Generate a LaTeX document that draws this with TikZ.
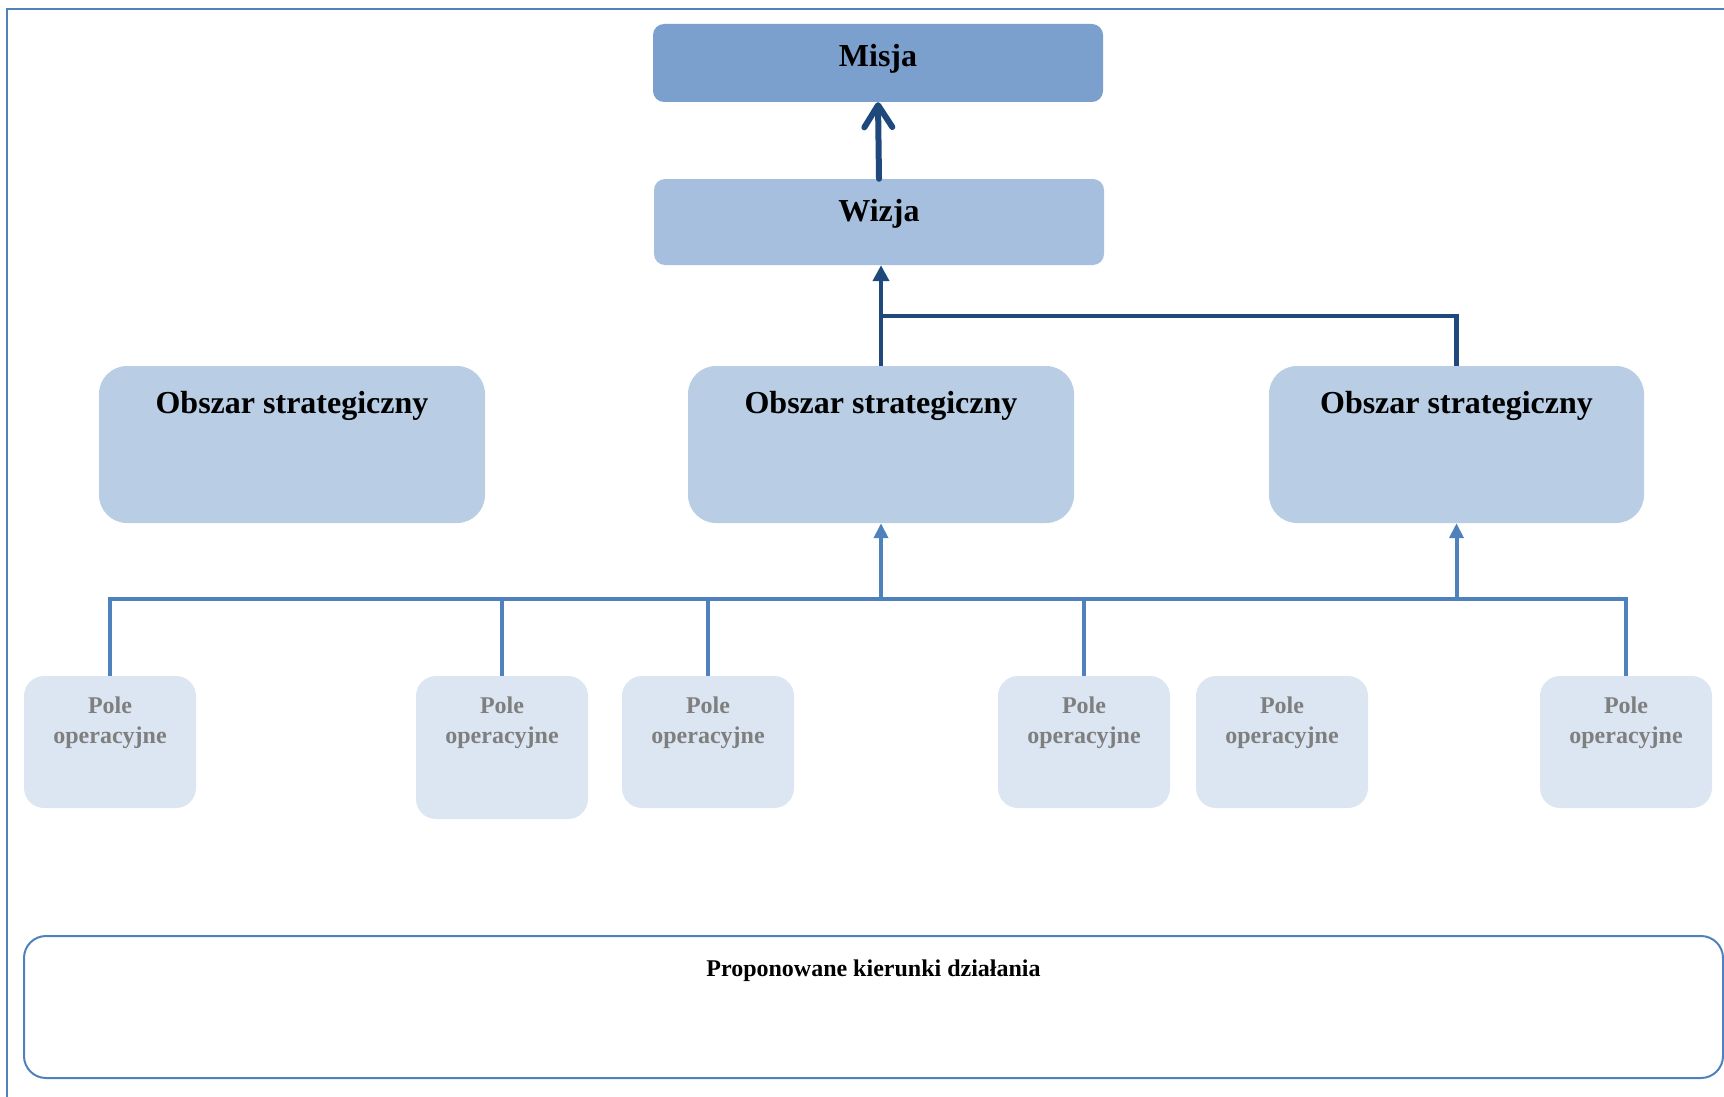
\documentclass[tikz,border=0pt]{standalone}
\usepackage{fontspec}
\setmainfont{Liberation Serif}
\usetikzlibrary{positioning,arrows.meta}
\definecolor{misjafill}{HTML}{7BA0CD}
\definecolor{wizjafill}{HTML}{A7BFDE}
\definecolor{obszarfill}{HTML}{B9CDE5}
\definecolor{polefill}{HTML}{DCE6F2}
\definecolor{poletext}{HTML}{7F7F7F}
\definecolor{darkblue}{HTML}{1F497D}
\definecolor{midblue}{HTML}{4F81BD}

\begin{document}
\begin{tikzpicture}[
    x=1pt, y=-1pt,
    big/.style={font=\fontsize{32}{38}\selectfont\bfseries},
    small/.style={font=\fontsize{24}{30}\selectfont\bfseries},
    toptext/.style={label={[big,anchor=north,yshift=-20pt,inner sep=0pt]north:#1}},
    topbox/.style={rounded corners=11pt, minimum width=450pt, inner sep=0pt},
    obszar/.style={rounded corners=28pt, fill=obszarfill, minimum height=157pt, inner sep=0pt,
        label={[big,anchor=north,yshift=-25pt,inner sep=0pt]north:Obszar strategiczny}},
    pole/.style={rounded corners=20pt, fill=polefill, minimum width=172pt, inner sep=0pt,
        label={[small,text=poletext,align=center,anchor=north,yshift=-21pt,inner sep=0pt]north:Pole\\operacyjne}},
    darkline/.style={draw=darkblue, line width=4.5pt},
    blueline/.style={draw=midblue, line width=4pt}
]
\clip (0,0) rectangle (1724,1097);
\useasboundingbox (0,0) rectangle (1724,1097);
% frame
\draw[midblue, line width=2pt] (7,9.5) rectangle (1780,1140);

% top
\node[topbox, fill=misjafill, minimum height=78pt, toptext=Misja] (misja) at (878,63) {};
\node[topbox, fill=wizjafill, minimum height=86pt, toptext=Wizja] (wizja) at (879,222) {};

% obszary
\node[obszar, minimum width=386pt] (o1) at (292,444.5) {};
\node[obszar, minimum width=386pt] (o2) at (881,444.5) {};
\node[obszar, minimum width=375pt] (o3) at (1456.5,444.5) {};

% pola
\node[pole, minimum height=132pt] (p1) at (110,742) {};
\node[pole, minimum height=143pt] (p2) at (502,747.5) {};
\node[pole, minimum height=132pt] (p3) at (708,742) {};
\node[pole, minimum height=132pt] (p4) at (1084,742) {};
\node[pole, minimum height=132pt] (p5) at (1282,742) {};
\node[pole, minimum height=132pt] (p6) at (1626,742) {};

% kierunki
\node[draw=midblue, line width=2pt, rounded corners=22pt, minimum width=1699pt, minimum height=142pt,
    inner sep=0pt, label={[small,anchor=north,yshift=-25pt,inner sep=0pt]north:Proponowane kierunki działania}] (kier) at (873.5,1007) {};

% connectors
\coordinate (jtop) at (881,316);
\coordinate (bus) at (0,599);
\draw[darkline, line width=6pt, line cap=round, -{Straight Barb[length=22pt,width=28pt,round]}] (wizja.north) -- (misja.south);
\draw[darkline, -{Triangle[length=16pt,width=16pt]}] (o2.north) -- (o2.north |- wizja.south);
\draw[darkline] (o3.north) |- (jtop);

\draw[blueline] (p1.north) |- (p6.north |- bus) -- (p6.north);
\foreach \p in {p2,p3,p4}
    \draw[blueline] (\p.north) -- (\p.north |- bus);
\draw[blueline, -{Triangle[length=15pt,width=14pt]}] (o2.south |- bus) -- (o2.south);
\draw[blueline, -{Triangle[length=15pt,width=14pt]}] (o3.south |- bus) -- (o3.south);
\end{tikzpicture}
\end{document}
